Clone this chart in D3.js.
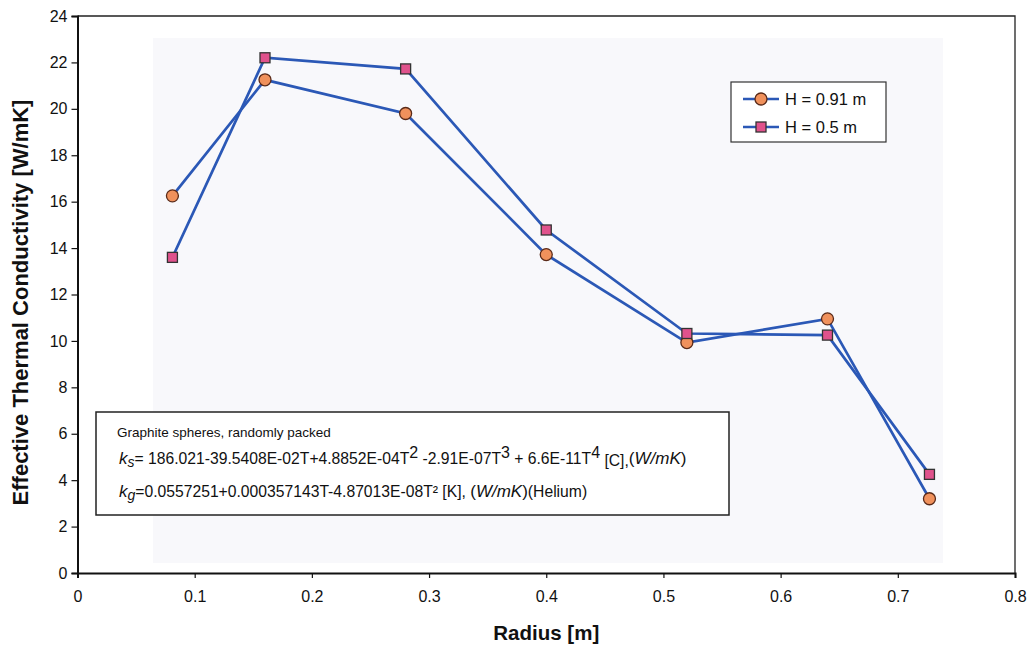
<!DOCTYPE html>
<html>
<head>
<meta charset="utf-8">
<script src="https://cdn.jsdelivr.net/npm/d3@7"></script>
<style>
    body { margin: 0; background: #fff; }
    text { font-family: Arial, "Liberation Sans", sans-serif; fill: #111; }
</style>
</head>
<body>
<div id="chart"></div>
<script>
// radius positions [m]
var radius = [0.081, 0.16, 0.28, 0.4, 0.52, 0.64, 0.727];
// effective thermal conductivity [W/mK]
var h091 = [16.25, 21.25, 19.8, 13.72, 9.93, 10.95, 3.2];
var h05 = [13.6, 22.2, 21.72, 14.78, 10.32, 10.25, 4.25];
var xTicks = [0, 0.1, 0.2, 0.3, 0.4, 0.5, 0.6, 0.7, 0.8];
var yTicks = [0, 2, 4, 6, 8, 10, 12, 14, 16, 18, 20, 22, 24];
var seriesNames = ['H = 0.91 m', 'H = 0.5 m'];

(function () {
    var W = 1030, H = 649;
    var pLeft = 77.5, pRight = 1015, pTop = 16, pBottom = 573;

    var svg = d3.select('#chart')
        .append('svg')
        .attr('width', W)
        .attr('height', H);

    var x = d3.scaleLinear().domain([0, 0.8]).range([pLeft, pRight]);
    var y = d3.scaleLinear().domain([0, 24]).range([pBottom, pTop]);

    // faint scanned background patch
    svg.append('rect')
        .attr('x', 153).attr('y', 38)
        .attr('width', 790).attr('height', 525)
        .attr('fill', '#f8f8fb');

    // frame (top and right)
    svg.append('path')
        .attr('d', 'M' + pLeft + ',' + pTop + 'H' + pRight + 'V' + pBottom)
        .attr('fill', 'none')
        .attr('stroke', '#222')
        .attr('stroke-width', 1.3);

    // axes
    var xAxis = svg.append('g')
        .attr('transform', 'translate(0,' + pBottom + ')')
        .call(d3.axisBottom(x).tickValues(xTicks).tickSize(5).tickPadding(13)
            .tickFormat(function (d) { return d === 0 ? '0' : d3.format('.1f')(d); }));
    var yAxis = svg.append('g')
        .attr('transform', 'translate(' + pLeft + ',0)')
        .call(d3.axisLeft(y).tickValues(yTicks).tickSize(6).tickPadding(4));
    [xAxis, yAxis].forEach(function (a) {
        a.select('.domain').attr('stroke', '#111').attr('stroke-width', 2);
        a.selectAll('.tick line').attr('stroke', '#111').attr('stroke-width', 1.2);
        a.selectAll('.tick text').style('font-size', '16px').attr('fill', '#111');
    });

    // axis titles
    svg.append('text')
        .attr('x', (pLeft + pRight) / 2).attr('y', 640)
        .attr('text-anchor', 'middle')
        .style('font-size', '20.5px').style('font-weight', 'bold')
        .text('Radius [m]');
    svg.append('text')
        .attr('transform', 'translate(28,' + ((pTop + pBottom) / 2 + 8) + ') rotate(-90)')
        .attr('text-anchor', 'middle')
        .style('font-size', '22px').style('font-weight', 'bold')
        .text('Effective Thermal Conductivity [W/mK]');

    // lines
    var line = d3.line()
        .x(function (d, i) { return x(radius[i]); })
        .y(function (d) { return y(d); });
    [h091, h05].forEach(function (s) {
        svg.append('path')
            .attr('d', line(s))
            .attr('fill', 'none')
            .attr('stroke', '#2b58b6')
            .attr('stroke-width', 2.7);
    });

    // markers
    function addCircle(g, cx, cy) {
        g.append('circle')
            .attr('cx', cx).attr('cy', cy).attr('r', 6)
            .attr('fill', '#f0915c')
            .attr('stroke', '#5a2a18').attr('stroke-width', 1.3);
    }
    function addSquare(g, cx, cy) {
        g.append('rect')
            .attr('x', cx - 5).attr('y', cy - 5)
            .attr('width', 10).attr('height', 10)
            .attr('fill', '#e0528c')
            .attr('stroke', '#333').attr('stroke-width', 1.3);
    }
    var marks = svg.append('g');
    h091.forEach(function (d, i) { addCircle(marks, x(radius[i]), y(d)); });
    h05.forEach(function (d, i) { addSquare(marks, x(radius[i]), y(d)); });

    // legend
    var lg = svg.append('g');
    lg.append('rect')
        .attr('x', 731).attr('y', 82)
        .attr('width', 155).attr('height', 60)
        .attr('fill', '#fff')
        .attr('stroke', '#333').attr('stroke-width', 1.2);
    seriesNames.forEach(function (name, i) {
        var ry = 99 + i * 28;
        lg.append('line')
            .attr('x1', 743).attr('x2', 779)
            .attr('y1', ry).attr('y2', ry)
            .attr('stroke', '#2b58b6').attr('stroke-width', 2.7);
        if (i === 0) addCircle(lg, 761, ry); else addSquare(lg, 761, ry);
        lg.append('text')
            .attr('x', 785).attr('y', ry + 6)
            .style('font-size', '16.5px')
            .text(name);
    });

    // annotation box
    var ann = svg.append('g');
    ann.append('rect')
        .attr('x', 96).attr('y', 412)
        .attr('width', 633).attr('height', 103)
        .attr('fill', '#fff')
        .attr('stroke', '#222').attr('stroke-width', 1.5);
    ann.append('text')
        .attr('x', 117).attr('y', 437)
        .style('font-size', '13.5px')
        .text('Graphite spheres, randomly packed');

    var ks = ann.append('text')
        .attr('x', 119).attr('y', 464)
        .style('font-size', '15.7px');
    ks.append('tspan').style('font-style', 'italic').style('font-size', '17px').text('k');
    ks.append('tspan').attr('dy', 3).style('font-style', 'italic').style('font-size', '14px').text('s');
    ks.append('tspan').attr('dy', -3).text('= 186.021-39.5408E-02T+4.8852E-04T');
    ks.append('tspan').attr('dy', -6).style('font-size', '16px').text('2');
    ks.append('tspan').attr('dy', 6).text(' -2.91E-07T');
    ks.append('tspan').attr('dy', -6).style('font-size', '16px').text('3');
    ks.append('tspan').attr('dy', 6).text(' + 6.6E-11T');
    ks.append('tspan').attr('dy', -6).style('font-size', '16px').text('4');
    ks.append('tspan').attr('dy', 8).text(' [C],');
    ks.append('tspan').attr('dy', -2).style('font-size', '17px').text('(');
    ks.append('tspan').style('font-style', 'italic').style('font-size', '17px').text('W/mK');
    ks.append('tspan').style('font-size', '17px').text(')');

    var kg = ann.append('text')
        .attr('x', 119).attr('y', 497)
        .style('font-size', '15.7px');
    kg.append('tspan').style('font-style', 'italic').style('font-size', '17px').text('k');
    kg.append('tspan').attr('dy', 3).style('font-style', 'italic').style('font-size', '14px').text('g');
    kg.append('tspan').attr('dy', -3).text('=0.0557251+0.000357143T-4.87013E-08T² [K], ');
    kg.append('tspan').style('font-size', '17px').text('(');
    kg.append('tspan').style('font-style', 'italic').style('font-size', '17px').text('W/mK');
    kg.append('tspan').style('font-size', '17px').text(')');
    kg.append('tspan').text('(Helium)');
})();
</script>
</body>
</html>
